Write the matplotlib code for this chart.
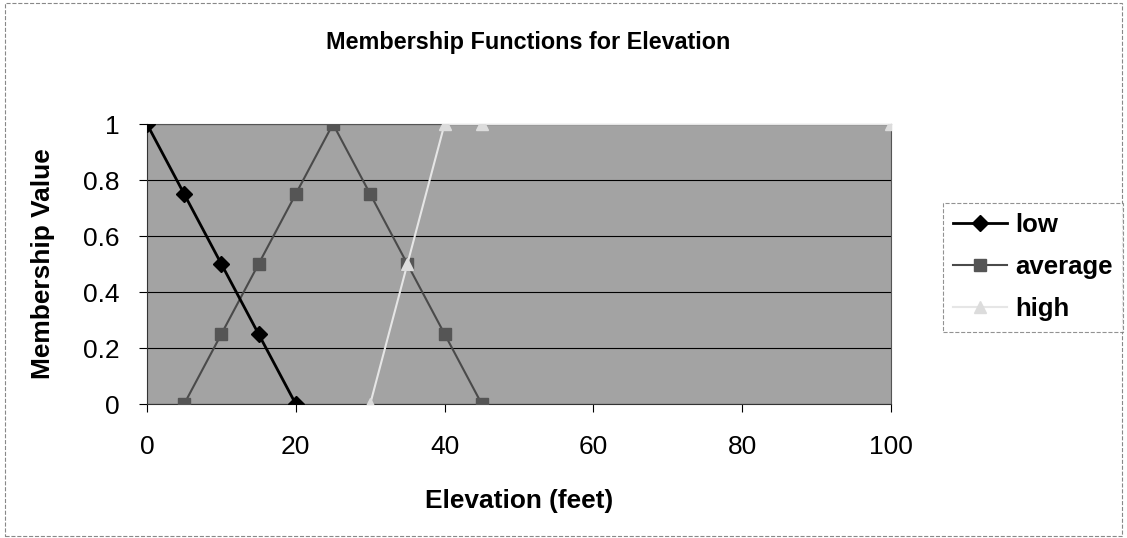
import matplotlib.pyplot as plt
from matplotlib.patches import Rectangle

plt.rcParams['font.family'] = ['Liberation Sans', 'DejaVu Sans']

# elevation (feet) and membership values
low_x = [0, 5, 10, 15, 20]
low_y = [1, 0.75, 0.5, 0.25, 0]
avg_x = [5, 10, 15, 20, 25, 30, 35, 40, 45]
avg_y = [0, 0.25, 0.5, 0.75, 1, 0.75, 0.5, 0.25, 0]
high_x = [30, 35, 40, 45, 100]
high_y = [0, 0.5, 1, 1, 1]

x_ticks = [0, 20, 40, 60, 80, 100]
y_ticks = [0, 0.2, 0.4, 0.6, 0.8, 1]
y_labels = ['0', '0.2', '0.4', '0.6', '0.8', '1']

fig = plt.figure(figsize=(11.27, 5.38), dpi=100)
ax = fig.add_axes([0.1304, 0.249, 0.6602, 0.5205])
ax.set_facecolor('#a3a3a3')

ax.plot(low_x, low_y, color='black', lw=2, marker='D', ms=8, label='low', zorder=4)
ax.plot(avg_x, avg_y, color='#4a4a4a', lw=1.5, marker='s', ms=9,
        mfc='#555555', mec='#555555', label='average', zorder=3)
ax.plot(high_x, high_y, color='#e6e6e6', lw=1.5, marker='^', ms=9,
        mfc='#dcdcdc', mec='#dcdcdc', label='high', zorder=3)

ax.set_xlim(0, 100)
ax.set_ylim(0, 1)
ax.set_xticks(x_ticks)
ax.set_yticks(y_ticks)
ax.set_yticklabels(y_labels)
ax.tick_params(labelsize=19, direction='out', length=6, width=0.8)
ax.tick_params(axis='x', pad=16)
ax.tick_params(axis='y', pad=14)
ax.yaxis.grid(True, color='black', lw=0.8)
ax.set_axisbelow(True)
for side in ['top', 'right']:
    ax.spines[side].set_color('#555555')
ax.spines['bottom'].set_color('#333333')
ax.spines['left'].set_color('#333333')

fig.text(0.469, 1 - 43 / 538, 'Membership Functions for Elevation',
         fontsize=16.8, fontweight='bold', ha='center', va='center')
ax.set_xlabel('Elevation (feet)', fontsize=18.9, fontweight='bold', labelpad=22)
ax.set_ylabel('Membership Value', fontsize=18.9, fontweight='bold', labelpad=20)

leg = fig.legend(loc='upper left', bbox_to_anchor=(943 / 1127, 1 - 203 / 538), frameon=True,
                 fancybox=False, edgecolor='#777777', prop={'size': 18.5, 'weight': 'bold'},
                 handlelength=2.1, handletextpad=0.3, borderpad=0.4, labelspacing=0.7,
                 borderaxespad=0)
leg.get_frame().set_linestyle('--')
leg.get_frame().set_linewidth(0.8)

fig.patches.append(Rectangle((0.004, 0.004), 0.992, 0.99, transform=fig.transFigure,
                             fill=False, ec='#888888', lw=0.8, ls='--'))

fig.savefig('out.png', dpi=100)
